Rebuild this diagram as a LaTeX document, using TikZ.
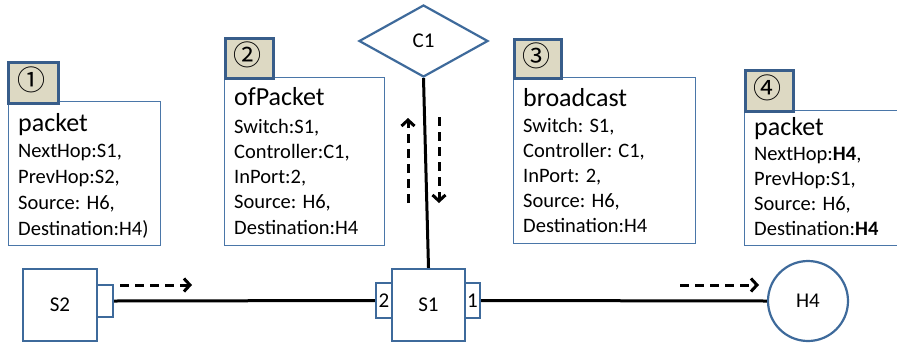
\documentclass[tikz,border=0pt]{standalone}
\usepackage{fontspec}
\setmainfont{Carlito}
\newfontfamily\circfont{Noto Sans CJK SC}
\usetikzlibrary{shapes.geometric,arrows.meta}
\definecolor{shapeblue}{HTML}{3E6A9B}
\definecolor{boxblue}{HTML}{4A76A8}
\definecolor{tagblue}{HTML}{385D8A}
\definecolor{tagfill}{HTML}{DDD9C3}
\tikzset{
  netshape/.style={draw=shapeblue, line width=2.2pt, fill=white, inner sep=0pt,
    font=\fontsize{21}{25}\selectfont},
  portbox/.style={netshape, minimum width=15, minimum height=35},
  infobox/.style={draw=boxblue, line width=1.3pt, fill=white, anchor=north west, inner sep=0pt},
  tagbox/.style={draw=tagblue, line width=2.5pt, fill=tagfill, anchor=north west, inner sep=0pt},
  tagnum/.style={font=\circfont\fontsize{28}{32}\selectfont, inner sep=0pt},
  titletext/.style={anchor=base west, inner sep=0pt, font=\fontsize{26}{30}\selectfont},
  bodytext/.style={anchor=base west, inner sep=0pt, font=\fontsize{20.5}{24}\selectfont},
  link/.style={line width=3pt, black},
  flow/.style={line width=3pt, black, dash pattern=on 9pt off 6pt,
    -{Straight Barb[length=6pt,width=13pt,line width=3pt]}},
}
\begin{document}
\begin{tikzpicture}[x=1pt,y=-1pt]
\useasboundingbox (0,0) rectangle (897,346);

% network elements
\node[netshape, diamond, aspect=1.79, minimum width=129, minimum height=72] (c1) at (423.5,41) {C1};
\node[netshape, minimum width=73, minimum height=72] (s1) at (428.5,305) {S1};
\node[netshape, minimum width=74, minimum height=72] (s2) at (60,305) {S2};
\node[netshape, circle, minimum size=80] (h4) at (808,301) {H4};
\node[portbox, minimum width=16] (s1p2) at (384,300.5) {2};
\node[portbox] (s1p1) at (472.5,300.5) {1};
\node[portbox, minimum width=16, minimum height=32] (s2p) at (105,301) {};

% links
\draw[link] (c1.south) -- (s1.north);
\draw[link] (s2p.east) -- (s1p2.west);
\draw[link] (s1p1.east) -- (h4.west);

% packet flow
\coordinate (fa1) at (120,285); \coordinate (fa2) at (192,285);
\coordinate (fb1) at (680,285); \coordinate (fb2) at (759,285);
\coordinate (fc1) at (408,203); \coordinate (fc2) at (408,118);
\coordinate (fd1) at (439,117); \coordinate (fd2) at (439,203);
\draw[flow] (fa1) -- (fa2);
\draw[flow] (fb1) -- (fb2);
\draw[flow] (fc1) -- (fc2);
\draw[flow] (fd1) -- (fd2);

% message boxes
\node[infobox, minimum width=152, minimum height=144] (m1) at (8,101) {};
\node[infobox, minimum width=160, minimum height=168] (m2) at (224,77) {};
\node[infobox, minimum width=182, minimum height=166] (m3) at (513,77) {};
\node[infobox, minimum width=160, minimum height=135] (m4) at (744,110) {};

\node[tagbox, minimum width=50, minimum height=41] (t1) at (7,61) {};
\node[tagbox, minimum width=48, minimum height=40] (t2) at (224,37) {};
\node[tagbox, minimum width=47, minimum height=39] (t3) at (513,38) {};
\node[tagbox, minimum width=48, minimum height=41] (t4) at (744,69) {};
\node[tagnum] (n1) at ([xshift=-1.5,yshift=3]t1.center) {①};
\node[tagnum] (n2) at ([xshift=-1.5,yshift=3]t2.center) {②};
\node[tagnum] (n3) at ([xshift=-1.5,yshift=3]t3.center) {③};
\node[tagnum] (n4) at ([xshift=-1.5,yshift=3]t4.center) {④};

% message contents
\node[titletext] (m1t) at (18,131) {packet};
\foreach \t [count=\i from 0] in {{NextHop:S1,},{PrevHop:S2,},{Source: H6,},{Destination:H4)}}
  \node[bodytext] (m1l\i) at (18,{157+26*\i}) {\t};

\node[titletext] (m2t) at (234,105) {ofPacket};
\foreach \t [count=\i from 0] in {{Switch:S1,},{Controller:C1,},{InPort:2,},{Source: H6,},{Destination:H4}}
  \node[bodytext] (m2l\i) at (234,{133+25.3*\i}) {\t};

\node[titletext] (m3t) at (523,106) {broadcast};
\foreach \t [count=\i from 0] in {{Switch: S1,},{Controller: C1,},{InPort: 2,},{Source: H6,},{Destination:H4}}
  \node[bodytext] (m3l\i) at (523,{132+25*\i}) {\t};

\node[titletext] (m4t) at (754,135) {packet};
\foreach \t [count=\i from 0] in {{NextHop:\textbf{H4},},{PrevHop:S1,},{Source: H6,},{Destination:\textbf{H4}}}
  \node[bodytext] (m4l\i) at (754,{160+25*\i}) {\t};
\end{tikzpicture}
\end{document}
